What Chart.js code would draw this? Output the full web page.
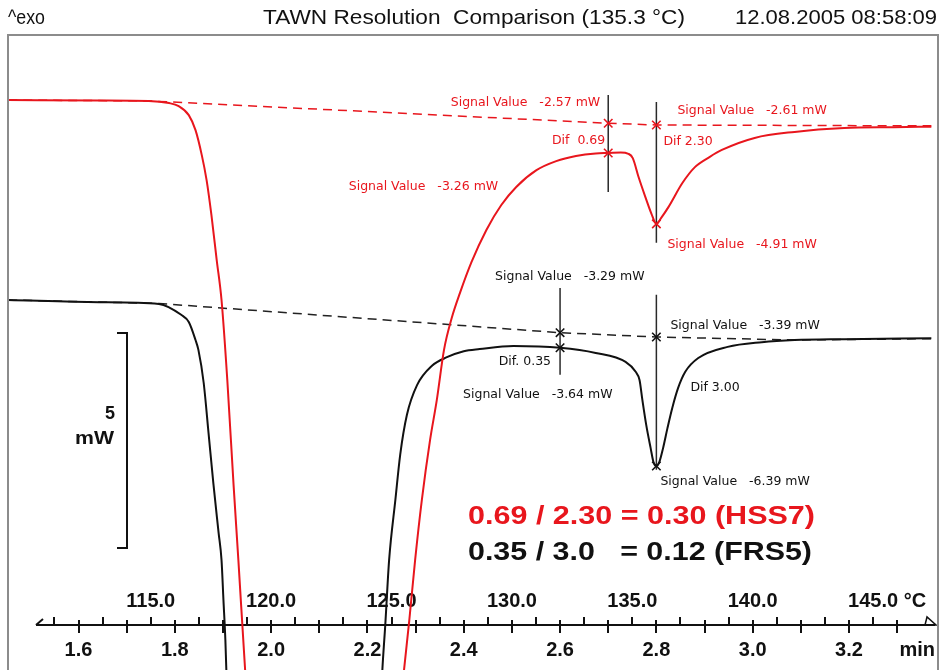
<!DOCTYPE html>
<html>
<head>
<meta charset="utf-8">
<script src="https://cdn.jsdelivr.net/npm/chart.js@4/dist/chart.umd.min.js"></script>
<style>
html,body{margin:0;padding:0;background:#fff;}
#wrap{width:939px;height:670px;}
</style>
</head>
<body>
<div id="wrap"><canvas id="c" width="939" height="670"></canvas></div>
<script>
// ---------------- data (time in min, signal in mW) ----------------
const redTime = [1.454,1.643,1.746,1.788,1.808,1.829,1.843,1.856,1.866,1.876,1.887,1.897,1.909,1.922,1.932,1.946,1.975,
  2.235,2.276,2.287,2.299,2.313,2.330,2.344,2.359,2.375,2.392,2.416,2.447,2.478,2.509,2.551,2.592,2.633,2.674,2.701,2.726,
  2.742,2.751,2.763,2.777,2.790,2.800,2.810,2.825,2.854,2.880,2.911,2.936,3.004,3.087,3.190,3.293,3.371];
const redSignal = [-2.03,-2.04,-2.05,-2.10,-2.17,-2.38,-2.73,-3.31,-3.89,-4.70,-5.75,-6.68,-8.54,-10.98,-12.73,-15.28,-20.0,
  -20.0,-15.28,-14.12,-12.73,-11.33,-9.94,-9.01,-7.84,-7.10,-6.52,-5.80,-5.05,-4.47,-4.05,-3.66,-3.45,-3.33,-3.27,-3.26,-3.25,
  -3.28,-3.38,-3.82,-4.28,-4.68,-4.91,-4.77,-4.52,-3.96,-3.59,-3.35,-3.19,-2.91,-2.77,-2.68,-2.66,-2.65];
const redBaseTime = [1.454,1.746,2.70,2.80,3.371];
const redBaseSignal = [-2.03,-2.05,-2.57,-2.61,-2.63];

const blackTime = [1.454,1.643,1.767,1.814,1.829,1.843,1.849,1.860,1.870,1.880,1.891,1.897,1.901,1.905,1.907,1.925,
  2.215,2.231,2.237,2.245,2.258,2.268,2.282,2.303,2.334,2.365,2.400,2.433,2.503,2.600,2.674,2.736,2.757,2.765,2.771,2.779,
  2.788,2.794,2.800,2.806,2.814,2.823,2.833,2.845,2.860,2.887,2.948,3.019,3.087,3.190,3.371];
const blackSignal = [-2.53,-2.58,-2.62,-2.88,-3.04,-3.46,-3.69,-4.46,-5.62,-6.79,-7.95,-8.58,-9.51,-10.44,-11.13,-15.0,
  -15.0,-11.13,-10.09,-8.58,-7.18,-6.13,-5.20,-4.51,-4.06,-3.86,-3.72,-3.67,-3.60,-3.64,-3.76,-3.97,-4.20,-4.39,-4.86,-5.44,
  -5.97,-6.30,-6.39,-6.30,-5.97,-5.51,-5.04,-4.58,-4.20,-3.88,-3.62,-3.51,-3.46,-3.44,-3.42];
const blackBaseTime = [1.454,1.767,2.60,2.80,3.087,3.371];
const blackBaseSignal = [-2.53,-2.61,-3.29,-3.39,-3.46,-3.43];

// evaluation cursors
const redCursorTime = [2.70, 2.80];
const redCursorBase = [-2.57, -2.61];
const redCursorSignal = [-3.26, -4.91];
const redCursorTop = [-1.91, -2.075];
const redCursorBottom = [-4.17, -5.35];
const blackCursorTime = [2.60, 2.80];
const blackCursorBase = [-3.29, -3.39];
const blackCursorSignal = [-3.64, -6.39];
const blackCursorTop = [-2.25, -2.41];
const blackCursorBottom = [-4.27, -6.48];

// axes
const timeTicks = [1.6,1.7,1.8,1.9,2.0,2.1,2.2,2.3,2.4,2.5,2.6,2.7,2.8,2.9,3.0,3.1,3.2,3.3];
const timeLabels = [1.6,1.8,2.0,2.2,2.4,2.6,2.8,3.0,3.2];
const tempLabels = [115,120,125,130,135,140,145];
const tempMinorTicks = [111,113,115,117,119,121,123,125,127,129,131,133,135,137,139,141,143,145];
const tempStart = 80, heatingRate = 20;           // T = 80 °C + 20 K/min * t
const timeMin = 1.4536, timeMax = 3.3711;
const blackRange = [-10.088, 3.61], redRange = [-14.238, -0.54];
const scaleBarTop = -3.30, scaleBarSize = 5;

const titleLeft = '^exo';
const titleCenter = 'TAWN Resolution  Comparison (135.3 °C)';
const titleRight = '12.08.2005 08:58:09';
const ratioRed = '0.69 / 2.30 = 0.30 (HSS7)';
const ratioBlack = '0.35 / 3.0   = 0.12 (FRS5)';

// ---------------- rendering ----------------
const RED = '#e8161d', BLK = '#111111', CUR = '#2a2a2a';
const pts = (xs, ys) => xs.map((x, i) => ({x, y: ys[i]}));

function txt(ctx, s, x, y, font, color, align, fitWidth) {
  ctx.save();
  ctx.font = font; ctx.fillStyle = color; ctx.textBaseline = 'middle';
  if (fitWidth) {
    const w = ctx.measureText(s).width, k = fitWidth / w;
    const x0 = align === 'left' ? x : (align === 'right' ? x - fitWidth : x - fitWidth / 2);
    ctx.translate(x0, y); ctx.scale(k, 1); ctx.textAlign = 'left'; ctx.fillText(s, 0, 0);
  } else {
    ctx.textAlign = align; ctx.fillText(s, x, y);
  }
  ctx.restore();
}
const AF = '12.5px "DejaVu Sans", Verdana, sans-serif';
const AXF = 'bold 20px "Liberation Sans", Arial, sans-serif';
const sv = v => 'Signal Value   ' + v.toFixed(2) + ' mW';

const decor = {
  id: 'decor',
  beforeDatasetsDraw(chart) {
    const {ctx} = chart, xs = chart.scales.x, xT = chart.scales.xT;
    const ay = Math.round(chart.chartArea.bottom);
    ctx.save();
    ctx.strokeStyle = BLK; ctx.lineWidth = 2; ctx.lineCap = 'butt';
    const L = (a, b, c, d) => { ctx.beginPath(); ctx.moveTo(a, b); ctx.lineTo(c, d); ctx.stroke(); };
    L(36, ay, 935, ay);
    L(36, ay, 43, ay - 6);
    ctx.lineWidth = 1.5;
    ctx.beginPath(); ctx.moveTo(925, ay); ctx.lineTo(936, ay); ctx.lineTo(927, ay - 8); ctx.closePath(); ctx.stroke();
    ctx.lineWidth = 2;
    timeTicks.forEach(t => { const px = Math.round(xs.getPixelForValue(t)); L(px, ay - 5, px, ay); });
    tempMinorTicks.forEach(T => { const px = Math.round(xT.getPixelForValue(T)); L(px, ay - 8, px, ay); });
    ctx.restore();
    // temperature labels
    tempLabels.forEach(T => txt(ctx, T.toFixed(1), xT.getPixelForValue(T), ay - 24, AXF, BLK, 'center'));
    ctx.save(); ctx.font = AXF;
    const last = tempLabels[tempLabels.length - 1];
    const lx = xT.getPixelForValue(last) + ctx.measureText(last.toFixed(1)).width / 2 + ctx.measureText(' ').width;
    ctx.restore();
    txt(ctx, '°C', lx, ay - 24, AXF, BLK, 'left');
    txt(ctx, 'min', 935, ay + 25, AXF, BLK, 'right');
  },
  afterDraw(chart) {
    const {ctx} = chart, xs = chart.scales.x, y = chart.scales.y, yR = chart.scales.yR;
    // frame
    ctx.save(); ctx.strokeStyle = '#8c8c8c'; ctx.lineWidth = 2;
    ctx.beginPath(); ctx.moveTo(8, 670); ctx.lineTo(8, 35); ctx.lineTo(938, 35); ctx.lineTo(938, 670); ctx.stroke();
    ctx.restore();
    // title row
    const TF = '21px "Liberation Sans", Arial, sans-serif';
    txt(ctx, titleLeft, 8, 18, TF, BLK, 'left', 37);
    txt(ctx, titleCenter, 263, 18, TF, BLK, 'left', 422);
    txt(ctx, titleRight, 735, 18, TF, BLK, 'left', 202);
    // red annotations
    let x = xs.getPixelForValue(redCursorTime[0]), yb = yR.getPixelForValue(redCursorBase[0]), ys = yR.getPixelForValue(redCursorSignal[0]);
    txt(ctx, sv(redCursorBase[0]), x - 8, yb - 21, AF, RED, 'right');
    txt(ctx, 'Dif  ' + (redCursorBase[0] - redCursorSignal[0]).toFixed(2), x - 3, ys - 12, AF, RED, 'right');
    txt(ctx, sv(redCursorSignal[0]), x - 110, ys + 34, AF, RED, 'right');
    x = xs.getPixelForValue(redCursorTime[1]); yb = yR.getPixelForValue(redCursorBase[1]); ys = yR.getPixelForValue(redCursorSignal[1]);
    txt(ctx, sv(redCursorBase[1]), x + 21, yb - 14, AF, RED, 'left');
    txt(ctx, 'Dif ' + (redCursorBase[1] - redCursorSignal[1]).toFixed(2), x + 7, yb + 17, AF, RED, 'left');
    txt(ctx, sv(redCursorSignal[1]), x + 11, ys + 21, AF, RED, 'left');
    // black annotations
    x = xs.getPixelForValue(blackCursorTime[0]); yb = y.getPixelForValue(blackCursorBase[0]); ys = y.getPixelForValue(blackCursorSignal[0]);
    txt(ctx, sv(blackCursorBase[0]), x - 65, yb - 56, AF, BLK, 'left');
    txt(ctx, 'Dif. ' + (blackCursorBase[0] - blackCursorSignal[0]).toFixed(2), x - 9, ys + 14, AF, BLK, 'right');
    txt(ctx, sv(blackCursorSignal[0]), x - 97, ys + 47, AF, BLK, 'left');
    x = xs.getPixelForValue(blackCursorTime[1]); yb = y.getPixelForValue(blackCursorBase[1]); ys = y.getPixelForValue(blackCursorSignal[1]);
    txt(ctx, sv(blackCursorBase[1]), x + 14, yb - 11, AF, BLK, 'left');
    txt(ctx, 'Dif ' + (blackCursorBase[1] - blackCursorSignal[1]).toFixed(2), x + 34, yb + 51, AF, BLK, 'left');
    txt(ctx, sv(blackCursorSignal[1]), x + 4, ys + 16, AF, BLK, 'left');
    // ratio text
    const BF = 'bold 26px "Liberation Sans", Arial, sans-serif';
    txt(ctx, ratioRed, 468, 517, BF, RED, 'left', 347);
    txt(ctx, ratioBlack, 468, 553, BF, BLK, 'left', 344);
    // scale bar
    const sTop = Math.round(y.getPixelForValue(scaleBarTop)), sBot = Math.round(y.getPixelForValue(scaleBarTop - scaleBarSize));
    ctx.save(); ctx.strokeStyle = BLK; ctx.lineWidth = 2;
    ctx.beginPath(); ctx.moveTo(117, sTop); ctx.lineTo(127, sTop); ctx.lineTo(127, sBot); ctx.lineTo(117, sBot); ctx.stroke();
    ctx.restore();
    const mid = (sTop + sBot) / 2;
    const SF = 'bold 18px "Liberation Sans", Arial, sans-serif';
    txt(ctx, String(scaleBarSize), 115, mid - 26, SF, BLK, 'right');
    txt(ctx, 'mW', 114, mid - 1, SF, BLK, 'right', 39);
  }
};

const cursorSets = [];
redCursorTime.forEach((t, i) => cursorSets.push({type: 'line', data: [{x: t, y: redCursorTop[i]}, {x: t, y: redCursorBottom[i]}],
  yAxisID: 'yR', borderColor: CUR, borderWidth: 1.5, pointRadius: 0, order: 6, clip: false}));
blackCursorTime.forEach((t, i) => cursorSets.push({type: 'line', data: [{x: t, y: blackCursorTop[i]}, {x: t, y: blackCursorBottom[i]}],
  yAxisID: 'y', borderColor: CUR, borderWidth: 1.5, pointRadius: 0, order: 6, clip: false}));

const tickFont = {family: '"Liberation Sans", Arial, sans-serif', size: 20, weight: 'bold'};

new Chart(document.getElementById('c'), {
  type: 'line',
  data: {
    datasets: [
      {label: 'HSS7 marks', type: 'scatter', data: pts(redCursorTime, redCursorBase).concat(pts(redCursorTime, redCursorSignal)),
        yAxisID: 'yR', pointStyle: 'crossRot', pointRadius: 6, borderColor: RED, borderWidth: 1.6, order: 0, clip: false},
      {label: 'FRS5 marks', type: 'scatter', data: pts(blackCursorTime, blackCursorBase).concat(pts(blackCursorTime, blackCursorSignal)),
        yAxisID: 'y', pointStyle: 'crossRot', pointRadius: 6, borderColor: BLK, borderWidth: 1.6, order: 0, clip: false},
      {label: 'HSS7', data: pts(redTime, redSignal), yAxisID: 'yR', borderColor: RED, borderWidth: 2,
        pointRadius: 0, cubicInterpolationMode: 'monotone', order: 2, clip: false},
      {label: 'FRS5', data: pts(blackTime, blackSignal), yAxisID: 'y', borderColor: BLK, borderWidth: 2,
        pointRadius: 0, cubicInterpolationMode: 'monotone', order: 3, clip: false},
      {label: 'HSS7 baseline', data: pts(redBaseTime, redBaseSignal), yAxisID: 'yR', borderColor: RED, borderWidth: 1.5,
        borderDash: [9, 6], pointRadius: 0, order: 4, clip: false},
      {label: 'FRS5 baseline', data: pts(blackBaseTime, blackBaseSignal), yAxisID: 'y', borderColor: '#222', borderWidth: 1.5,
        borderDash: [9, 6], pointRadius: 0, order: 5, clip: false},
      ...cursorSets
    ]
  },
  options: {
    responsive: false, animation: false, devicePixelRatio: 1,
    layout: {padding: {left: 8, right: 1, top: 36, bottom: 0}},
    elements: {line: {capBezierPoints: false}},
    plugins: {legend: {display: false}, tooltip: {enabled: false}, title: {display: false}},
    scales: {
      x: {type: 'linear', min: timeMin, max: timeMax, position: 'bottom',
        border: {display: false},
        grid: {display: true, drawOnChartArea: false, drawTicks: true, tickLength: 8, color: BLK, lineWidth: 2},
        afterBuildTicks: s => { s.ticks = timeTicks.map(v => ({value: v})); },
        afterFit: s => { s.height = 45; },
        ticks: {autoSkip: false, maxRotation: 0, minRotation: 0, padding: 5, color: BLK, font: tickFont,
          callback: v => timeLabels.some(l => Math.abs(l - v) < 1e-6) ? Number(v).toFixed(1) : ''}},
      xT: {type: 'linear', axis: 'x', display: false, min: tempStart + heatingRate * timeMin, max: tempStart + heatingRate * timeMax},
      y: {type: 'linear', display: false, min: blackRange[0], max: blackRange[1]},
      yR: {type: 'linear', display: false, min: redRange[0], max: redRange[1]}
    }
  },
  plugins: [decor]
});
</script>
</body>
</html>
